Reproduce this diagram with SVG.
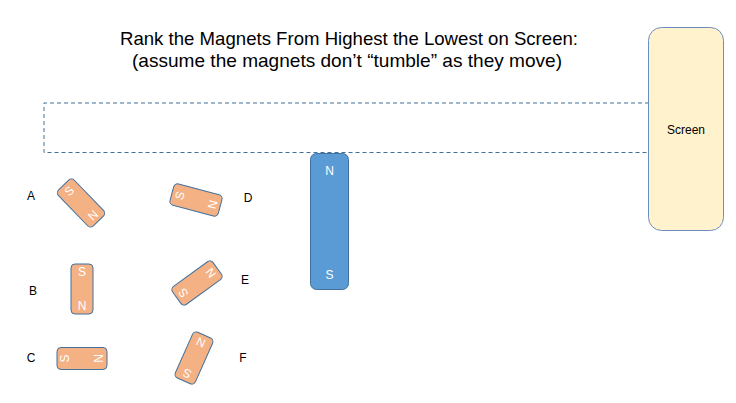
<svg xmlns="http://www.w3.org/2000/svg" width="736" height="403" viewBox="0 0 736 403">
<style>
text{font-family:"Liberation Sans",Arial,sans-serif}
.title{font-size:19px;fill:#000;text-anchor:middle}
.lbl{font-size:12px;fill:#000;text-anchor:middle}
.mag rect{fill:#F4B183;stroke:#41719C;stroke-width:1}
.mag text{font-size:12px;fill:#fff;text-anchor:middle}
.bar rect{fill:#5B9BD5;stroke:#41719C;stroke-width:1}
.bar text{font-size:12px;fill:#fff;text-anchor:middle}
.dash{fill:none;stroke:#41719C;stroke-width:1;stroke-dasharray:4 3}
</style>
<rect width="736" height="403" fill="#fff"/>
<text class="title" x="349" y="44.5" textLength="458" lengthAdjust="spacingAndGlyphs">Rank the Magnets From Highest the Lowest on Screen:</text>
<text class="title" x="347" y="67" textLength="430" lengthAdjust="spacingAndGlyphs">(assume the magnets don’t “tumble” as they move)</text>
<g id="connectors">
<path class="dash" d="M649,103 H44 V152.5 H649"/>
</g>
<g id="screen">
<rect x="648.5" y="27.5" width="75" height="203" rx="13" fill="#FFF2CC" stroke="#6C8EBF" stroke-width="1"/>
<text x="686" y="134" font-size="12" text-anchor="middle" fill="#000">Screen</text>
</g>
<g id="bar" class="bar">
<rect x="310.5" y="153.5" width="38" height="136" rx="6"/>
<text x="329.5" y="175">N</text>
<text x="329.5" y="279">S</text>
</g>
<g id="magA" class="mag" transform="translate(81,203) rotate(-44)">
<rect x="-11" y="-25" width="22" height="50" rx="4"/>
<text y="-12.7">S</text><text y="21.3">N</text>
</g>
<g id="magB" class="mag" transform="translate(82,289)">
<rect x="-11" y="-25" width="22" height="50" rx="4"/>
<text y="-12.7">S</text><text y="21.3">N</text>
</g>
<g id="magC" class="mag" transform="translate(82,358.5) rotate(-90)">
<rect x="-11" y="-25" width="22" height="50" rx="4"/>
<text y="-12.7">S</text><text y="21.3">N</text>
</g>
<g id="magD" class="mag" transform="translate(196,200) rotate(-75)">
<rect x="-11" y="-25" width="22" height="50" rx="4"/>
<text y="-12.7">S</text><text y="21.3">N</text>
</g>
<g id="magE" class="mag" transform="translate(197,283) rotate(-126)">
<rect x="-11" y="-25" width="22" height="50" rx="4"/>
<text y="-12.7">S</text><text y="21.3">N</text>
</g>
<g id="magF" class="mag" transform="translate(194,358) rotate(-156)">
<rect x="-11" y="-25" width="22" height="50" rx="4"/>
<text y="-12.7">S</text><text y="21.3">N</text>
</g>
<g id="labels">
<text class="lbl" x="31" y="200">A</text>
<text class="lbl" x="33" y="295">B</text>
<text class="lbl" x="31" y="362">C</text>
<text class="lbl" x="248" y="202">D</text>
<text class="lbl" x="245" y="284">E</text>
<text class="lbl" x="243" y="362">F</text>
</g>
</svg>
